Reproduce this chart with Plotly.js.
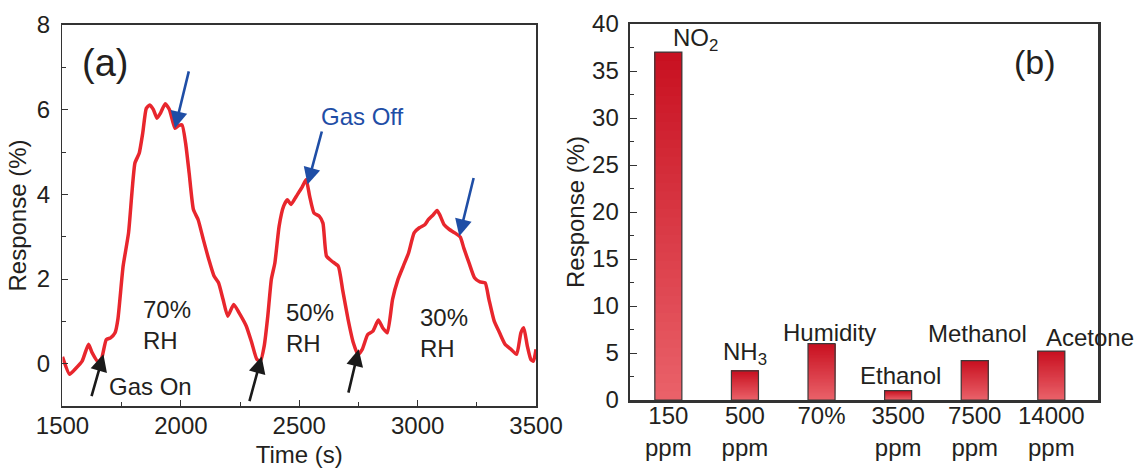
<!DOCTYPE html>
<html>
<head>
<meta charset="utf-8">
<script src="https://cdn.plot.ly/plotly-3.0.1.min.js"></script>
<style>
html,body{margin:0;padding:0;background:#fff;}
#chart{width:1134px;height:469px;}
</style>
</head>
<body>
<div id="chart"></div>
<script>
// ---- Panel (a): response vs time ----
const timeS = [1500,1530,1553,1583,1610,1625,1651,1666,1685,1703,1722,1734,1756,1779,1806,1824,1839,1854,1869,1884,1899,1914,1934,1952,1975,1990,2005,2020,2035,2053,2073,2095,2118,2140,2159,2178,2198,2223,2246,2276,2299,2321,2336,2352,2367,2382,2397,2415,2434,2450,2465,2487,2510,2529,2544,2562,2585,2600,2615,2638,2665,2683,2706,2728,2748,2766,2789,2811,2834,2852,2872,2894,2917,2939,2962,2985,3007,3030,3045,3063,3082,3093,3112,3134,3157,3180,3195,3217,3240,3263,3285,3301,3323,3346,3369,3394,3418,3436,3448,3463,3478,3489,3500];
const responseA = [0.16,-0.25,-0.13,0.06,0.46,0.26,0.04,0.14,0.57,0.61,0.73,1.05,2.30,3.09,4.74,4.97,5.45,6.03,6.11,6.00,5.80,5.92,6.14,6.00,5.56,5.62,5.64,5.21,4.50,3.64,3.40,2.93,2.46,2.07,1.91,1.52,1.12,1.40,1.20,0.89,0.50,0.10,0.06,0.42,1.12,1.99,2.38,3.25,3.72,3.87,3.76,3.95,4.15,4.35,3.95,3.56,3.48,3.32,2.54,2.42,2.30,1.75,1.05,0.50,0.22,0.34,0.69,0.77,1.03,0.85,0.73,1.52,1.99,2.30,2.62,3.09,3.21,3.28,3.40,3.50,3.62,3.52,3.28,3.17,3.09,2.99,2.73,2.38,2.03,1.93,1.91,1.52,1.01,0.73,0.46,0.34,0.22,0.73,0.85,0.42,0.10,0.06,0.34];
const rhLabels = ["70%<br>RH","50%<br>RH","30%<br>RH"];
const rhLabelX = [1940,2545,3111];
const rhLabelY = [0.92,0.85,0.73];
// gas on (black) arrows: tail -> head
const gasOnTail = [[1621,-0.80],[2288,-0.92],[2706,-0.72]];
const gasOnHead = [[1673,0.22],[2341,0.17],[2751,0.34]];
// gas off (blue) arrows: tail -> head
const gasOffTail = [[2035,6.94],[2597,5.52],[3238,4.42]];
const gasOffHead = [[1975,5.56],[2535,4.23],[3176,3.01]];

// ---- Panel (b): selectivity bars ----
const gases = ["NO<sub>2</sub>","NH<sub>3</sub>","Humidity","Ethanol","Methanol","Acetone"];
const concLabels = ["150<br>ppm","500<br>ppm","70%","3500<br>ppm","7500<br>ppm","14000<br>ppm"];
const responseB = [37.0,3.1,6.0,1.0,4.2,5.2];
const gasLabelX = [0.35,1.0,2.11,3.03,4.03,5.5];
const gasLabelY = [38.3,5.0,7.2,2.65,7.1,6.6];

const FONT = "Liberation Sans, Arial, sans-serif";
const TXT = "#231f20";
const traces = [];

traces.push({
  type:"scatter", mode:"lines", x:timeS, y:responseA, xaxis:"x", yaxis:"y",
  line:{color:"#e8262d", width:3.5, shape:"spline", smoothing:0.5},
  showlegend:false, hoverinfo:"skip"
});

// gradient bars: each layer runs from a rising base up to the bar top, later layers darker
const N = 40;
const xIdx = responseB.map((_,i)=>i);
const colTop = [200,16,32], colBot = [234,98,106];
for (let k=0;k<N;k++){
  const f = (k+0.5)/N;
  const c = colBot.map((b,j)=>Math.round(b + (colTop[j]-b)*f));
  traces.push({
    type:"bar", x:xIdx, y:responseB.map(v=>v*(N-k)/N), base:responseB.map(v=>v*k/N),
    xaxis:"x2", yaxis:"y2", width:0.353,
    marker:{color:`rgb(${c[0]},${c[1]},${c[2]})`, line:{width:0}},
    showlegend:false, hoverinfo:"skip"
  });
}
traces.push({
  type:"bar", x:xIdx, y:responseB, xaxis:"x2", yaxis:"y2", width:0.353,
  marker:{color:"rgba(0,0,0,0)", line:{color:"#3a3a3a", width:1.2}},
  showlegend:false, hoverinfo:"skip"
});

const annotations = [];
annotations.push({xref:"x",yref:"y",x:1680,y:7.1,text:"(a)",showarrow:false,font:{size:38,color:TXT,family:FONT}});
rhLabels.forEach((t,i)=>annotations.push({xref:"x",yref:"y",x:rhLabelX[i],y:rhLabelY[i],text:t,showarrow:false,align:"left",font:{size:24,color:TXT,family:FONT}}));
annotations.push({xref:"x",yref:"y",x:1870,y:-0.54,text:"Gas On",showarrow:false,font:{size:24,color:TXT,family:FONT}});
annotations.push({xref:"x",yref:"y",x:2769,y:5.83,text:"Gas Off",showarrow:false,font:{size:24,color:"#1f4ea6",family:FONT}});
gasOnTail.forEach((t,i)=>annotations.push({xref:"x",yref:"y",axref:"x",ayref:"y",x:gasOnHead[i][0],y:gasOnHead[i][1],ax:t[0],ay:t[1],text:"",showarrow:true,arrowhead:2,arrowsize:1.3,arrowwidth:2.6,arrowcolor:"#1a1a1a",standoff:0}));
gasOffTail.forEach((t,i)=>annotations.push({xref:"x",yref:"y",axref:"x",ayref:"y",x:gasOffHead[i][0],y:gasOffHead[i][1],ax:t[0],ay:t[1],text:"",showarrow:true,arrowhead:2,arrowsize:1.3,arrowwidth:2.6,arrowcolor:"#1f4ea6",standoff:0}));
gases.forEach((g,i)=>annotations.push({xref:"x2",yref:"y2",x:gasLabelX[i],y:gasLabelY[i],text:g,showarrow:false,font:{size:24,color:TXT,family:FONT}}));
annotations.push({xref:"x2",yref:"y2",x:4.79,y:36,text:"(b)",showarrow:false,font:{size:34,color:TXT,family:FONT}});

const axBase = {showline:true, mirror:true, linecolor:"#333", ticks:"inside", tickcolor:"#333", showgrid:false, zeroline:false, automargin:false,
  tickfont:{size:24,color:TXT,family:FONT}};

const layout = {
  width:1134, height:469, margin:{l:0,r:0,t:0,b:0},
  paper_bgcolor:"#fff", plot_bgcolor:"#fff", barmode:"overlay",
  font:{family:FONT,color:TXT},
  xaxis:Object.assign({}, axBase, {domain:[0.0551,0.4727], range:[1500,3500], dtick:500, tick0:1500, ticklen:6, linewidth:1.5, ticklabelstandoff:-2,
    minor:{dtick:250, ticks:"inside", ticklen:4, tickcolor:"#333"},
    title:{text:"Time (s)", font:{size:24,color:TXT,family:FONT}, standoff:8}}),
  yaxis:Object.assign({}, axBase, {domain:[0.1343,0.9467], range:[-1,8], tickvals:[0,2,4,6,8], ticklen:6, linewidth:1.5, ticklabelstandoff:6,
    minor:{tickvals:[-1,1,3,5,7], ticks:"inside", ticklen:4, tickcolor:"#333"},
    title:{text:"Response (%)", font:{size:24,color:TXT,family:FONT}, standoff:3}}),
  xaxis2:Object.assign({}, axBase, {domain:[0.5556,0.9683], range:[-0.5,5.61], tickvals:xIdx, ticktext:concLabels, ticks:"", linewidth:2.5, anchor:"y2", ticklabelstandoff:-7}),
  yaxis2:Object.assign({}, axBase, {domain:[0.1471,0.9488], range:[0,40], dtick:5, ticklen:7, linewidth:2.5, anchor:"x2", ticklabelstandoff:4,
    minor:{dtick:2.5, ticks:"inside", ticklen:4, tickcolor:"#333"},
    title:{text:"Response (%)", font:{size:24,color:TXT,family:FONT}, standoff:1}}),
  annotations:annotations
};

Plotly.newPlot("chart", traces, layout, {staticPlot:true, displayModeBar:false});
</script>
</body>
</html>
